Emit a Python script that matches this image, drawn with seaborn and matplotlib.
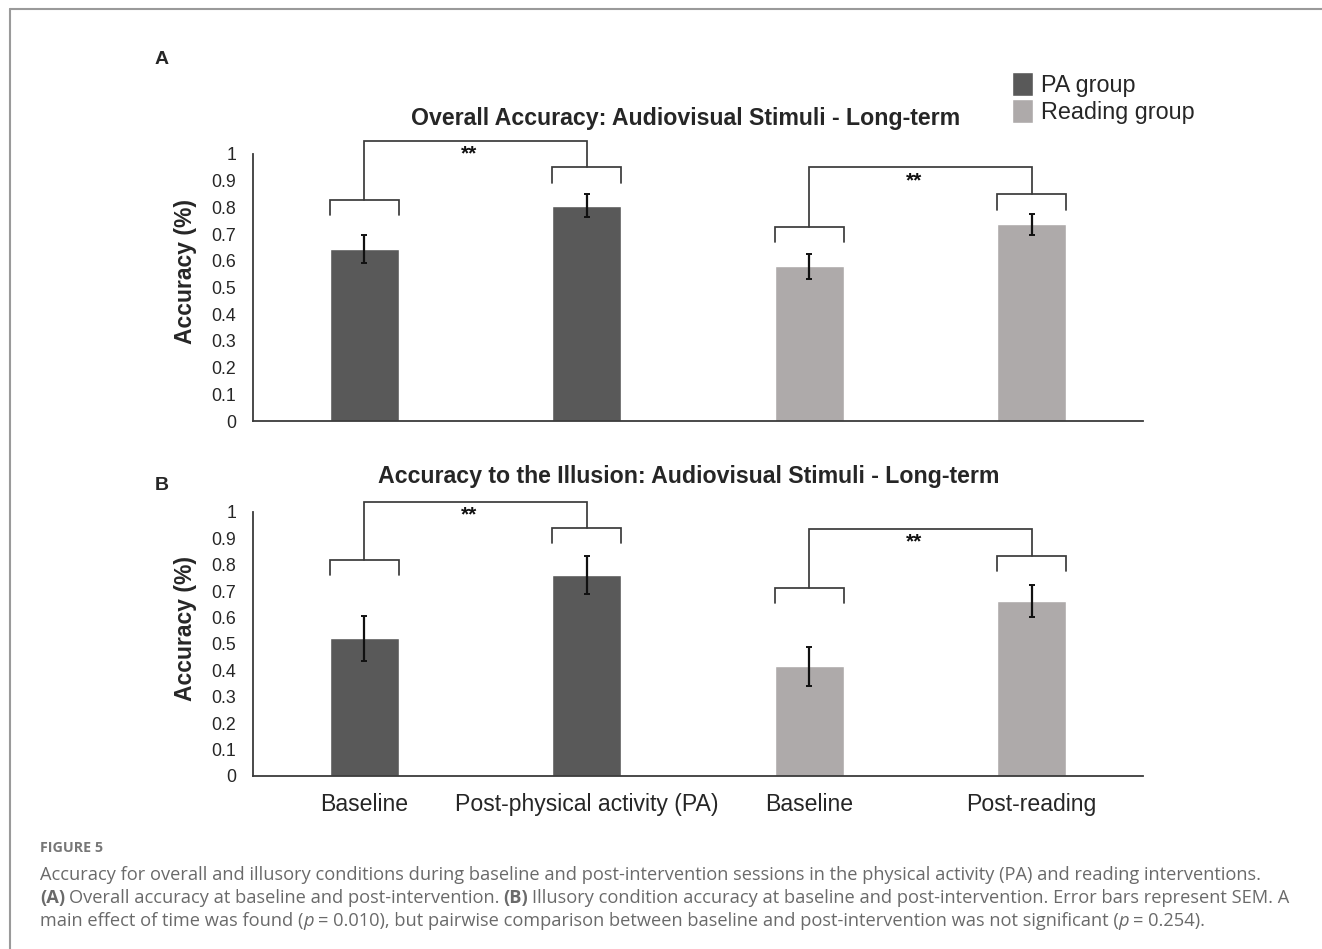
import numpy as np
import pandas as pd
import matplotlib
matplotlib.use("Agg")
import matplotlib.pyplot as plt
import seaborn as sns
from matplotlib.lines import Line2D

# ---------------- data ----------------
conditions = ["pa_base", "pa_post", "rd_base", "rd_post"]
tick_labels = ["Baseline", "Post-physical activity (PA)", "Baseline", "Post-reading"]
groups = ["PA group", "PA group", "Reading group", "Reading group"]

overall_mean = [0.645, 0.806, 0.579, 0.737]
overall_sem = [0.052, 0.043, 0.047, 0.039]
illusion_mean = [0.522, 0.761, 0.415, 0.663]
illusion_sem = [0.085, 0.072, 0.075, 0.061]

# significance bracket heights (per bar) and connector tops (per pair)
overall_bracket = [0.828, 0.950, 0.728, 0.849]
overall_top = [1.050, 0.950]
illusion_bracket = [0.817, 0.938, 0.713, 0.834]
illusion_top = [1.039, 0.937]
sig_pairs = [(0, 1), (2, 3)]
sig_labels = ["**", "**"]

title_a = "Overall Accuracy: Audiovisual Stimuli - Long-term"
title_b = "Accuracy to the Illusion: Audiovisual Stimuli - Long-term"
y_label = "Accuracy (%)"
y_ticks = [0, 0.1, 0.2, 0.3, 0.4, 0.5, 0.6, 0.7, 0.8, 0.9, 1]

group_colors = {"PA group": "#595959", "Reading group": "#AEAAAA"}

# ---------------- style ----------------
sns.set_style("white")
plt.rcParams["font.family"] = ["Liberation Sans", "DejaVu Sans"]

W, H = 1322, 949
fig = plt.figure(figsize=(W / 100, H / 100), dpi=100)


def px_axes(left, right, top, bottom):
    return fig.add_axes([left / W, 1 - bottom / H, (right - left) / W, (bottom - top) / H])


axA = px_axes(253, 1143, 154, 421)
axB = px_axes(253, 1143, 512, 776)

BAR_W = 0.31
LINE_C = "#3a3a3a"


def draw_panel(ax, means, sems, brackets, tops, show_legend, show_xticks):
    df = pd.DataFrame({"cond": conditions, "acc": means, "group": groups})
    sns.barplot(data=df, x="cond", y="acc", hue="group", palette=group_colors,
                dodge=False, width=BAR_W, errorbar=None, saturation=1,
                ax=ax, legend=show_legend)
    xs = np.arange(len(conditions))
    ax.errorbar(xs, means, yerr=sems, fmt="none", ecolor="#111111",
                elinewidth=1.6, capsize=2.2, capthick=1.4, zorder=5)
    ax.set_xlim(-0.5, len(conditions) - 0.5)
    ax.set_ylim(0, 1)
    ax.set_yticks(y_ticks)
    ax.set_yticklabels([f"{v:g}" for v in y_ticks], fontsize=12.8)
    ax.tick_params(axis="both", length=0)
    ax.tick_params(axis="y", pad=12)
    ax.set_xticks(xs)
    if show_xticks:
        ax.set_xticklabels(tick_labels, fontsize=16.6)
        ax.tick_params(axis="x", pad=12)
    else:
        ax.set_xticklabels([])
    ax.set_xlabel("")
    ax.set_ylabel(y_label, fontsize=16.5, fontweight="bold")
    ax.yaxis.set_label_coords(-0.063, 0.56)
    for s in ["top", "right"]:
        ax.spines[s].set_visible(False)
    for s in ["left", "bottom"]:
        ax.spines[s].set_color(LINE_C)
        ax.spines[s].set_linewidth(1.3)

    leg = 0.057
    hw = BAR_W / 2
    for (i, j), top, lab in zip(sig_pairs, tops, sig_labels):
        for k in (i, j):
            h = brackets[k]
            ax.plot([k - hw, k - hw, k + hw, k + hw], [h - leg, h, h, h - leg],
                    color=LINE_C, lw=1.25, clip_on=False, solid_joinstyle="miter")
        ax.plot([i, i, j, j], [brackets[i], top, top, brackets[j]],
                color=LINE_C, lw=1.25, clip_on=False, solid_joinstyle="miter")
        ax.text((i + j) / 2 - 0.03, top - 0.05, lab, ha="center", va="center",
                fontsize=15, fontweight="bold", color="#111111")


draw_panel(axA, overall_mean, overall_sem, overall_bracket, overall_top, True, False)
draw_panel(axB, illusion_mean, illusion_sem, illusion_bracket, illusion_top, False, True)

sns.move_legend(axA, "upper left", bbox_to_anchor=(1012 / W, 1 - 72 / H),
                bbox_transform=fig.transFigure, frameon=False, title=None,
                fontsize=16.8, handlelength=0.9, handleheight=1.2,
                handletextpad=0.35, labelspacing=0.1, borderpad=0, borderaxespad=0)

# titles & panel letters
fig.text(686 / W, 1 - 118 / H, title_a, ha="center", va="center", fontsize=16.7, fontweight="bold")
fig.text(689 / W, 1 - 477 / H, title_b, ha="center", va="center", fontsize=16.7, fontweight="bold")
fig.text(155 / W, 1 - 60 / H, "A", ha="left", va="center", fontsize=14, fontweight="bold")
fig.text(155 / W, 1 - 486 / H, "B", ha="left", va="center", fontsize=14, fontweight="bold")

# frame lines (top and left)
fig.add_artist(Line2D([10 / W, 1.0], [1 - 9 / H, 1 - 9 / H], transform=fig.transFigure,
                      color="#9a9a9a", lw=1.5))
fig.add_artist(Line2D([10 / W, 10 / W], [1 - 9 / H, 0.0], transform=fig.transFigure,
                      color="#9a9a9a", lw=1.5))

# caption
CAP_FONT = ["Open Sans", "DejaVu Sans"]
CAP_C = "#6a6a6a"
renderer = fig.canvas.get_renderer()
line1 = ("Accuracy for overall and illusory conditions during baseline and post-intervention "
         "sessions in the physical activity (PA) and reading interventions.")


def text_width(s, size, **kw):
    t = fig.text(0, 0, s, fontsize=size, family=CAP_FONT, **kw)
    w = t.get_window_extent(renderer=renderer).width
    t.remove()
    return w


# fit caption size so line 1 spans the same width as in the reference (40 -> 1258 px)
CAP_SIZE = 12.0 * 1218 / text_width(line1, 12.0)
space_w = 0.85 * (text_width("x x", CAP_SIZE) - text_width("xx", CAP_SIZE))


def rich_line(x_px, y_px, segments):
    x = x_px
    for txt, kw in segments:
        lead = len(txt) - len(txt.lstrip(" "))
        trail = len(txt) - len(txt.rstrip(" "))
        core = txt.strip(" ")
        x += lead * space_w
        if core:
            t = fig.text(x / W, 1 - y_px / H, core, fontsize=CAP_SIZE, family=CAP_FONT,
                         color=CAP_C, ha="left", va="center", **kw)
            x += t.get_window_extent(renderer=renderer).width
        x += trail * space_w


fig.text(40 / W, 1 - 848 / H, "FIGURE 5", fontsize=10.3, family=CAP_FONT, color="#777777",
         fontweight="bold", ha="left", va="center")
B = {"fontweight": "bold"}
N = {}
I = {"fontstyle": "italic"}
rich_line(40, 875, [(line1, N)])
rich_line(40, 898, [("(A)", B), (" Overall accuracy at baseline and post-intervention. ", N), ("(B)", B),
                    (" Illusory condition accuracy at baseline and post-intervention. Error bars represent SEM. A", N)])
rich_line(40, 921, [("main effect of time was found (", N), ("p", I), (" = 0.010), but pairwise comparison between "
                     "baseline and post-intervention was not significant (", N), ("p", I), (" = 0.254).", N)])

fig.savefig("out.png", dpi=100)
